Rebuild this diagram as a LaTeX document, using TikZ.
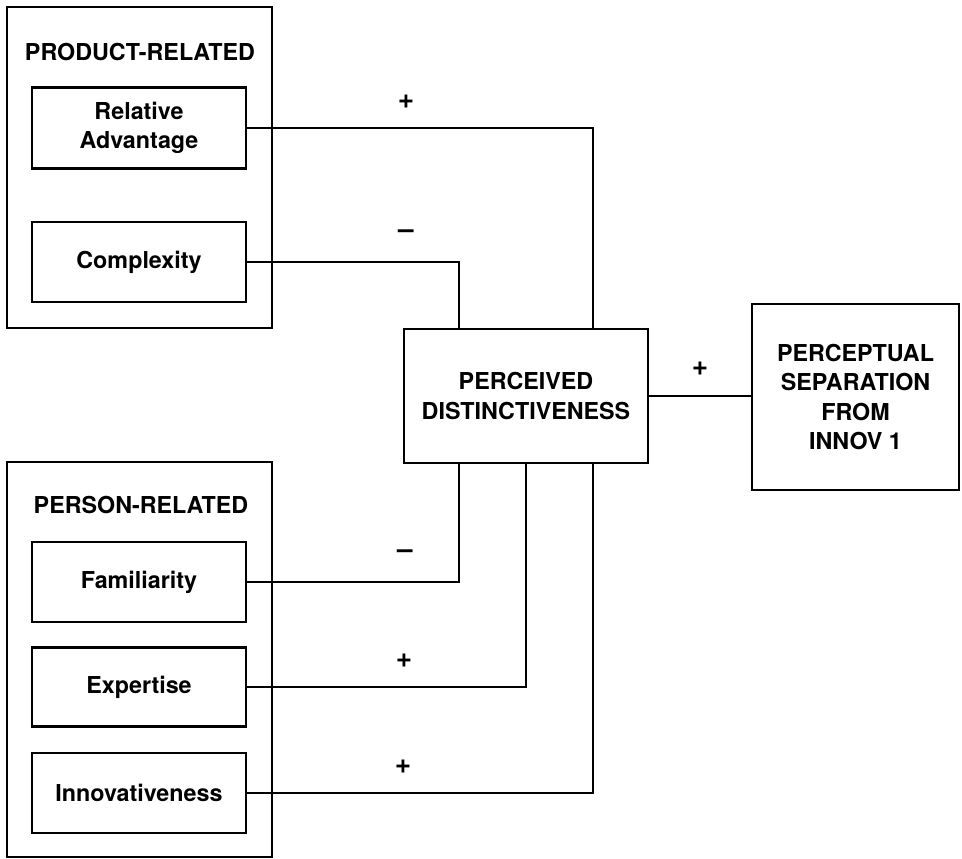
\documentclass[tikz,border=0pt]{standalone}
\usepackage{fontspec}
\setmainfont{TeX Gyre Heros}
\usetikzlibrary{positioning,calc}

\tikzset{
  box/.style={draw,line width=2.6pt,minimum width=214,minimum height=80,inner sep=0,align=center,font=\fontsize{23.3}{29.5}\selectfont\bfseries},
  grpbox/.style={draw,line width=2.8pt,minimum width=265,inner sep=0},
  grplabel/.style={font=\fontsize{23.3}{29.5}\selectfont\bfseries},
  sign/.style={font=\fontsize{28}{30}\selectfont\bfseries,inner sep=0},
  link/.style={line width=1.7pt}
}

\begin{document}
\begin{tikzpicture}[x=1pt,y=-1pt]
  \useasboundingbox (0,0) rectangle (962,859);

  % Product-related group
  \node[grpbox,minimum height=321] (prodgrp) at (139.5,167.5) {};
  \node[grplabel] (prodlbl) at (140,52) {PRODUCT-RELATED};
  \node[box,minimum height=81] (reladv) at (139,128) {Relative\\Advantage};
  \node[box] (complex) at (139,262) {Complexity};

  % Person-related group
  \node[grpbox,minimum height=395] (persgrp) at (139.5,659.5) {};
  \node[grplabel] (perslbl) at (141,505) {PERSON-RELATED};
  \node[box] (famil) at (139,582) {Familiarity};
  \node[box,minimum height=79] (expert) at (139,687) {Expertise};
  \node[box] (innov) at (139,793) {Innovativeness};

  % Mediator and outcome
  \node[box,minimum width=244,minimum height=134] (perdist) at (526,396) {PERCEIVED\\DISTINCTIVENESS};
  \node[box,minimum width=207,minimum height=186] (persep) at (855.5,397) {PERCEPTUAL\\SEPARATION\\FROM\\INNOV 1};

  % Connectors
  \draw[link] (reladv.east) -| ([xshift=67]perdist.north);
  \draw[link] (complex.east) -| ([xshift=-67]perdist.north);
  \draw[link] (famil.east) -| ([xshift=-67]perdist.south);
  \draw[link] (expert.east) -| (perdist.south);
  \draw[link] (innov.east) -| ([xshift=67]perdist.south);
  \draw[link] (perdist.east) -- (perdist.east -| persep.west);

  % Signs
  \node[sign] (sgnrel) at (406,102) {+};
  \node[sign] (sgncpx) at (406,234) {--};
  \node[sign] (sgnfam) at (405,554) {--};
  \node[sign] (sgnexp) at (404,661) {+};
  \node[sign] (sgninn) at (403,767) {+};
  \node[sign] (sgnsep) at (700,369) {+};
\end{tikzpicture}
\end{document}
